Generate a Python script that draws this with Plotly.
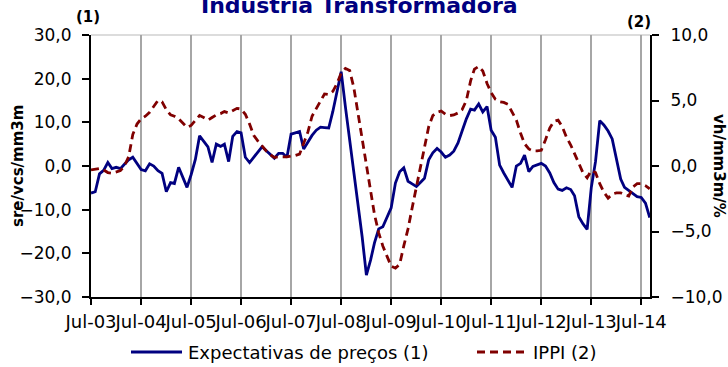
import pandas as pd
import plotly.graph_objects as go

# Monthly observations, Jul-2003 .. Sep-2014
start_month = "2003-07-01"

expectativas = [
    -6.2, -5.9, -1.8, -1.0, 0.8, -0.6, -0.3, -0.6, 0.4, 1.4, 2.0, 0.5,
    -0.8, -1.1, 0.5, 0.0, -1.1, -1.7, -5.9, -3.8, -4.0, -0.3, -2.5, -4.9,
    -2.0, 1.5, 6.9, 5.8, 4.4, 0.8, 5.0, 4.5, 5.0, 1.0, 6.8, 7.9,
    7.6, 2.0, 0.8, 2.0, 3.2, 4.4, 3.5, 2.6, 1.8, 2.9, 2.9, 2.0,
    7.3, 7.6, 7.9, 3.9, 5.5, 7.0, 8.2, 8.9, 8.8, 8.7, 12.5, 17.5,
    21.6, 13.5, 6.2, -1.4, -8.9, -16.2, -25.0, -21.5, -17.6, -14.4, -13.9, -11.9,
    -9.6, -3.9, -1.3, -0.4, -3.5, -4.1, -4.7, -3.7, -2.8, 1.4, 3.0, 4.0,
    3.2, 2.0, 2.5, 3.4, 5.3, 8.0, 10.8, 13.0, 12.8, 14.2, 12.4, 13.6,
    8.2, 6.6, 0.2, -1.6, -3.3, -4.9, 0.0, 0.6, 2.5, -1.3, -0.1, 0.3,
    0.6, 0.0, -1.6, -3.8, -5.3, -5.6, -5.0, -5.4, -6.8, -11.6, -13.2, -14.5,
    -5.0, 1.0, 10.4, 9.4, 8.0, 6.2, 1.8, -3.0, -4.9, -5.6, -6.4, -7.0,
    -7.2, -8.5, -11.8,
]

ippi = [
    -0.3, -0.25, -0.2, -0.3, -0.5, -0.55, -0.45, -0.35, 0.0, 0.7, 2.4, 3.2,
    3.6, 3.8, 4.1, 4.5, 5.0, 4.9, 4.3, 3.9, 3.8, 3.6, 3.3, 2.95,
    3.1, 3.5, 3.85, 3.7, 3.5, 3.7, 3.9, 4.0, 4.15, 4.05, 4.2, 4.4,
    4.35, 3.95, 3.2, 2.35, 1.9, 1.5, 1.15, 0.85, 0.65, 0.7, 0.7, 0.7,
    0.76, 0.8, 0.9, 1.7, 2.6, 3.8, 4.4, 4.9, 5.5, 5.45, 5.7, 6.3,
    7.1, 7.45, 7.3, 6.0, 4.0, 2.0, -0.1, -2.1, -3.7, -5.1, -6.1, -6.9,
    -7.65, -7.8, -7.5, -6.1, -4.8, -3.2, -1.6, 0.0, 1.5, 3.0, 3.85, 4.1,
    4.2, 3.95, 3.85, 3.9, 4.05, 4.3, 5.0, 6.5, 7.4, 7.6, 7.25, 6.3,
    5.6, 5.1, 4.9, 4.85, 4.7, 4.1, 3.5, 2.5, 1.7, 1.3, 1.15, 1.15,
    1.2, 2.0, 2.9, 3.4, 3.5, 3.0, 2.2, 1.6, 0.9, 0.2, -0.5, -0.9,
    -0.35, -0.5, -1.35, -2.0, -2.45, -2.15, -2.05, -2.05, -2.2, -2.3, -1.6, -1.35,
    -1.35, -1.5, -1.75,
]

months = pd.date_range(start_month, periods=len(expectativas), freq="MS")

series_names = ["Expectativas de preços (1)", "IPPI (2)"]
title_text = "Indústria Transformadora"
left_title = "sre/vcs/mm3m"
right_title = "vh/mm3m/%"

BLUE = "#000080"
RED = "#800000"
FONT = "DejaVu Sans"
DASH = "8px,5px"

W, H = 728, 367
L, R, T, B = 91, 78, 35, 70
PW, PH = W - L - R, H - T - B


def px(x):
    return (x - L) / PW


def py(y):
    return (T + PH - y) / PH


fig = go.Figure()
fig.add_trace(go.Scatter(x=months, y=expectativas, mode="lines",
                         line=dict(color=BLUE, width=2.8),
                         name=series_names[0], yaxis="y"))
fig.add_trace(go.Scatter(x=months, y=ippi, mode="lines",
                         line=dict(color=RED, width=2.8, dash=DASH),
                         name=series_names[1], yaxis="y2"))

fig.update_layout(
    width=W, height=H,
    margin=dict(l=L, r=R, t=T, b=B, autoexpand=False),
    paper_bgcolor="white", plot_bgcolor="white",
    separators=", ",
    showlegend=False,
    font=dict(family=FONT, size=17, color="black"),
    xaxis=dict(
        type="date", automargin=False,
        range=["2003-07-01", "2014-09-03"],
        tick0="2003-07-01", dtick="M12", tickformat="%b-%y",
        tickangle=0, tickfont=dict(size=18),
        ticklabelstandoff=1,
        showgrid=True, gridcolor="#a6a6a6", gridwidth=1.5,
        showline=True, linecolor="black", linewidth=2,
        ticks="outside", ticklen=6, tickcolor="black", tickwidth=1.5,
        zeroline=False,
    ),
    yaxis=dict(
        automargin=False,
        range=[-30, 30], dtick=10, tickformat=".1f",
        showgrid=False, zeroline=False,
        showline=True, linecolor="black", linewidth=2,
        ticks="outside", ticklen=7, tickcolor="black", tickwidth=1.5,
        ticklabelstandoff=7,
    ),
    yaxis2=dict(
        automargin=False,
        range=[-10, 10], dtick=5, tickformat=".1f",
        overlaying="y", side="right",
        showgrid=False, zeroline=False,
        showline=True, linecolor="black", linewidth=2,
        ticks="outside", ticklen=7, tickcolor="black", tickwidth=1.5,
        ticklabelstandoff=8,
    ),
)

# light top border of the plot area
fig.add_shape(type="line", xref="paper", yref="paper", x0=0, x1=1, y0=1, y1=1,
              line=dict(color="#d0d0d0", width=1.5), layer="below")

# title, partly above the page edge
fig.add_annotation(text=f"<b>{title_text}</b>", xref="paper", yref="paper",
                   x=px(359), y=1, xanchor="center", yanchor="bottom", yshift=15,
                   showarrow=False, font=dict(size=22, color=BLUE, family=FONT))

# axis markers and titles
fig.add_annotation(text="<b>(1)</b>", xref="paper", yref="paper",
                   x=px(88), y=py(17), xanchor="center", yanchor="middle",
                   showarrow=False, font=dict(size=15))
fig.add_annotation(text="<b>(2)</b>", xref="paper", yref="paper",
                   x=px(639), y=py(22), xanchor="center", yanchor="middle",
                   showarrow=False, font=dict(size=15))
fig.add_annotation(text=f"<b>{left_title}</b>", xref="paper", yref="paper",
                   x=px(18), y=py(166), xanchor="center", yanchor="middle",
                   textangle=-90, showarrow=False, font=dict(size=15))
fig.add_annotation(text=f"<b>{right_title}</b>", xref="paper", yref="paper",
                   x=px(719), y=py(166), xanchor="center", yanchor="middle",
                   textangle=90, showarrow=False, font=dict(size=15))

# legend
legend_y = py(352)
fig.add_shape(type="line", xref="paper", yref="paper",
              x0=px(131), x1=px(182), y0=legend_y, y1=legend_y,
              line=dict(color=BLUE, width=2.8))
fig.add_annotation(text=series_names[0], xref="paper", yref="paper",
                   x=px(186), y=legend_y, xanchor="left", yanchor="middle",
                   showarrow=False, font=dict(size=18))
fig.add_shape(type="line", xref="paper", yref="paper",
              x0=px(477), x1=px(528), y0=legend_y, y1=legend_y,
              line=dict(color=RED, width=2.8, dash=DASH))
fig.add_annotation(text=series_names[1], xref="paper", yref="paper",
                   x=px(531), y=legend_y, xanchor="left", yanchor="middle",
                   showarrow=False, font=dict(size=18))

fig.write_html("out.html")
